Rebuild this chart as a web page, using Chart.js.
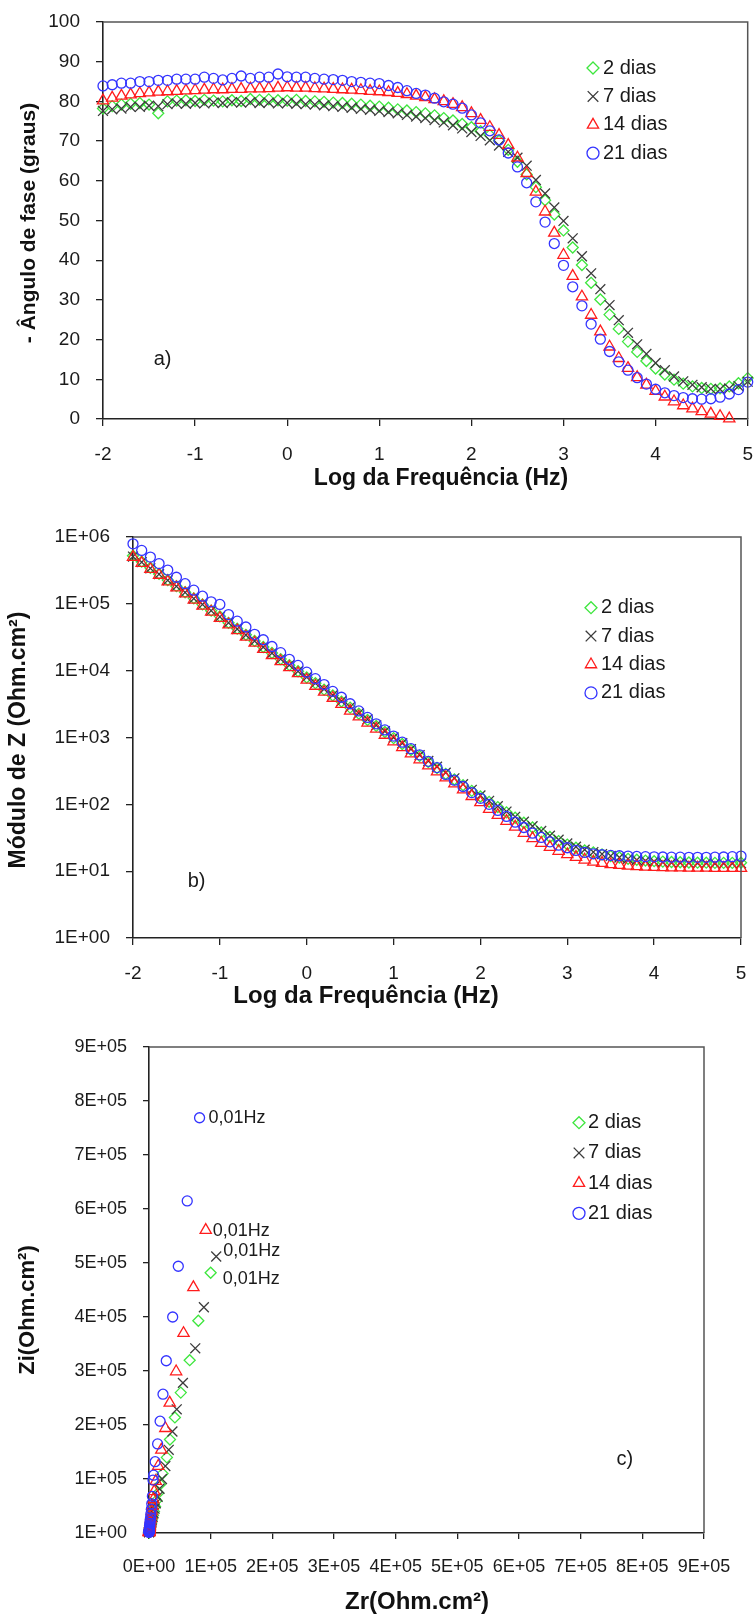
<!DOCTYPE html>
<html><head><meta charset="utf-8">
<script src="https://cdn.jsdelivr.net/npm/chart.js@4.4.1/dist/chart.umd.min.js"></script>
<style>
html,body{margin:0;padding:0;background:#fff;}
body{width:756px;height:1616px;position:relative;overflow:hidden;}
.box{position:absolute;left:0;width:756px;}
canvas{display:block;}
</style></head><body>
<div class="box" style="top:0;height:505px"><canvas id="cA" width="756" height="505"></canvas></div>
<div class="box" style="top:505px;height:505px"><canvas id="cB" width="756" height="505"></canvas></div>
<div class="box" style="top:1010px;height:606px"><canvas id="cC" width="756" height="606"></canvas></div>
<script>
// ---------------- DATA ----------------
const seriesLabels = ['2 dias', '7 dias', '14 dias', '21 dias'];

// log10 of frequency (Hz), 10 points per decade
const logFreq = [-2.0,-1.9,-1.8,-1.7,-1.6,-1.5,-1.4,-1.3,-1.2,-1.1,
  -1.0,-0.9,-0.8,-0.7,-0.6,-0.5,-0.4,-0.3,-0.2,-0.1,
  0.0,0.1,0.2,0.3,0.4,0.5,0.6,0.7,0.8,0.9,
  1.0,1.1,1.2,1.3,1.4,1.5,1.6,1.7,1.8,1.9,
  2.0,2.1,2.2,2.3,2.4,2.5,2.6,2.7,2.8,2.9,
  3.0,3.1,3.2,3.3,3.4,3.5,3.6,3.7,3.8,3.9,
  4.0,4.1,4.2,4.3,4.4,4.5,4.6,4.7,4.8,4.9,5.0];

// a) - phase angle (degrees)
const phase2d = [78.2,78.8,79.2,79.4,79.6,79.2,77.0,80.0,80.2,80.3,
  80.1,80.4,80.2,80.0,80.3,80.1,80.6,80.4,80.5,80.3,
  80.2,80.4,80.1,80.0,79.9,79.7,79.6,79.4,79.2,78.9,
  78.7,78.4,78.0,77.7,77.3,77.0,76.5,75.8,75.2,74.3,
  73.5,72.5,71.5,70.1,67.8,64.8,61.6,58.4,55.1,51.5,
  47.5,43.2,38.8,34.3,30.1,26.3,22.7,19.5,16.9,14.6,
  12.7,11.2,9.9,8.9,8.2,7.8,7.6,7.7,8.2,9.0,10.3];
const phase7d = [77.6,78.0,78.2,78.6,78.6,78.9,78.8,79.3,79.5,79.4,
  79.6,79.5,79.7,79.6,79.8,79.7,79.8,79.6,79.7,79.5,
  79.6,79.4,79.3,79.2,79.0,78.8,78.6,78.4,78.1,77.9,
  77.6,77.3,77.0,76.6,76.2,75.8,75.3,74.7,74.0,73.2,
  72.3,71.3,70.2,68.9,67.3,65.8,63.8,60.2,56.8,53.3,
  49.9,45.5,41.0,36.7,32.7,28.7,24.9,21.7,18.8,16.4,
  14.1,12.3,10.7,9.5,8.6,8.0,7.6,7.5,7.7,8.3,9.4];
const phase14d = [80.2,80.9,81.4,81.7,82.0,82.2,82.4,82.5,82.6,82.7,
  82.8,82.9,83.0,83.0,83.1,83.1,83.2,83.2,83.3,83.4,
  83.5,83.4,83.4,83.3,83.2,83.1,83.0,82.9,82.8,82.6,
  82.5,82.3,82.1,81.8,81.4,81.0,80.5,80.0,79.3,78.5,
  77.0,75.3,73.5,71.5,69.0,65.8,61.9,57.2,52.2,46.9,
  41.3,36.0,30.8,26.2,22.0,18.2,15.3,12.8,10.5,8.6,
  7.0,5.6,4.4,3.4,2.6,1.9,1.3,0.7,0.1,null,null];
const phase21d = [83.9,84.2,84.6,84.6,85.0,85.0,85.3,85.3,85.6,85.6,
  85.6,86.1,85.8,85.4,85.8,86.4,85.8,86.1,86.1,86.9,
  86.2,86.1,86.1,85.8,85.6,85.5,85.3,85.0,84.8,84.6,
  84.5,84.0,83.5,82.7,82.0,81.6,80.8,79.9,79.3,78.3,
  76.6,74.6,72.6,70.3,67.0,63.5,59.5,54.7,49.6,44.2,
  38.7,33.3,28.5,23.9,20.1,17.0,14.4,12.3,10.4,8.8,
  7.5,6.6,5.9,5.4,5.1,5.0,5.1,5.5,6.3,7.4,9.3];

// b) impedance modulus |Z| (Ohm.cm2)
const modZ2d = [5.25e5,4.27e5,3.47e5,2.8e5,2.27e5,1.84e5,1.49e5,1.21e5,9.8e4,7.9e4,
  6.5e4,5.2e4,4.25e4,3.44e4,2.79e4,2.26e4,1.84e4,1.49e4,1.21e4,9.8e3,
  7.9e3,6.5e3,5.2e3,4.25e3,3.45e3,2.8e3,2.27e3,1.83e3,1.49e3,1.21e3,
  980,800,650,530,430,350,285,235,193,159,
  131,109,91,76,63,53,45,38,32.5,28.2,
  25,22.4,20.4,19,17.8,16.8,16.0,15.3,14.8,14.4,
  14.1,13.9,13.7,13.6,13.5,13.4,13.4,13.3,13.3,13.3,13.4];
const modZ7d = [5.1e5,4.2e5,3.4e5,2.78e5,2.25e5,1.83e5,1.48e5,1.2e5,9.8e4,7.9e4,
  6.4e4,5.2e4,4.2e4,3.42e4,2.78e4,2.25e4,1.83e4,1.49e4,1.21e4,9.8e3,
  8.0e3,6.5e3,5.3e3,4.3e3,3.5e3,2.85e3,2.3e3,1.87e3,1.52e3,1.24e3,
  1.0e3,820,670,545,445,365,298,245,200,165,
  136,113,94,78,65,55,47,40,34,29.5,
  26,23.2,21,19.3,18,16.9,16.0,15.3,14.7,14.3,
  13.9,13.6,13.4,13.3,13.2,13.1,13.1,13.0,13.0,13.0,13.1];
const modZ14d = [5.0e5,4.07e5,3.3e5,2.7e5,2.15e5,1.75e5,1.42e5,1.15e5,9.3e4,7.6e4,
  6.1e4,4.9e4,4.0e4,3.2e4,2.6e4,2.1e4,1.7e4,1.38e4,1.12e4,9.1e3,
  7.3e3,5.9e3,4.8e3,3.9e3,3.15e3,2.5e3,2.05e3,1.66e3,1.35e3,1.09e3,
  870,710,575,468,380,309,251,204,166,132,
  107,85,69,56,46,37,31,26.3,22.9,20,
  17.8,16.2,14.8,13.8,13.2,12.6,12.3,12.0,11.8,11.6,
  11.5,11.4,11.3,11.3,11.2,11.2,11.2,11.1,11.1,11.1,11.1];
const modZ21d = [7.9e5,6.3e5,5.0e5,4.0e5,3.2e5,2.5e5,2.0e5,1.6e5,1.3e5,1.07e5,
  9.8e4,6.9e4,5.5e4,4.5e4,3.5e4,2.9e4,2.3e4,1.86e4,1.48e4,1.2e4,
  9.5e3,7.6e3,6.2e3,4.9e3,4.0e3,3.2e3,2.5e3,2.0e3,1.6e3,1.3e3,
  1.05e3,850,680,550,440,355,280,230,185,150,
  123,100,81,66,54,45,37,32,27.5,24.5,
  22.4,20.4,19.1,18.2,17.6,17.2,17.0,16.8,16.6,16.5,
  16.4,16.3,16.2,16.2,16.1,16.1,16.1,16.2,16.3,16.5,16.8];

// c) Nyquist: real (Zr) and imaginary (Zi) parts, from 0.01 Hz upwards
const zr2d = [1.0e5,8.0e4,6.6e4,5.15e4,4.2e4,3.4e4,2.9e4,2.2e4,1.8e4,1.5e4,1.2e4,9.8e3,8e3,6.5e3,5.2e3,4.2e3,3.4e3,2.7e3,2.2e3,1.7e3,1.4e3,1.1e3,900,700,560,450,360,290,230,180];
const zi2d = [4.82e5,3.93e5,3.2e5,2.6e5,2.14e5,1.73e5,1.4e5,1.1e5,9e4,7.4e4,6e4,4.9e4,4e4,3.3e4,2.7e4,2.2e4,1.8e4,1.46e4,1.2e4,9.8e3,8e3,6.5e3,5.3e3,4.3e3,3.5e3,2.9e3,2.35e3,1.9e3,1.55e3,1.3e3];
const zr7d = [1.09e5,8.9e4,7.5e4,5.5e4,4.5e4,3.8e4,3.2e4,2.65e4,2.1e4,1.7e4,1.4e4,1.1e4,9e3,7.2e3,5.8e3,4.6e3,3.7e3,2.9e3,2.3e3,1.8e3,1.4e3,1.1e3,900,700,550,430,340,270,210,170];
const zi7d = [5.12e5,4.18e5,3.42e5,2.78e5,2.29e5,1.88e5,1.54e5,1.24e5,1.0e5,8.2e4,6.7e4,5.5e4,4.5e4,3.7e4,3e4,2.45e4,2e4,1.64e4,1.34e4,1.1e4,9e3,7.3e3,6e3,4.9e3,4e3,3.2e3,2.6e3,2.1e3,1.7e3,1.4e3];
const zr14d = [9.2e4,7.2e4,5.6e4,4.4e4,3.36e4,2.65e4,2.0e4,1.5e4,1.1e4,8.5e3,7e3,5.5e3,4.5e3,3.6e3,2.9e3,2.3e3,1.8e3,1.4e3,1.1e3,900,700,560,450,360,290,230,180,150,120,100];
const zi14d = [5.61e5,4.55e5,3.7e5,2.99e5,2.41e5,1.94e5,1.54e5,1.24e5,9.6e4,7.7e4,6.2e4,5e4,4e4,3.2e4,2.6e4,2.1e4,1.7e4,1.37e4,1.1e4,9e3,7.2e3,5.8e3,4.7e3,3.8e3,3.1e3,2.5e3,2e3,1.6e3,1.3e3,1.1e3];
const zr21d = [8.2e4,6.2e4,4.75e4,3.84e4,2.8e4,2.27e4,1.8e4,1.4e4,1.0e4,7.5e3,6.5e3,5.5e3,4.5e3,3.8e3,3.0e3,2.4e3,1.9e3,1.5e3,1.2e3,1.0e3,800,600,500,400,300,250,200,150,120,100];
const zi21d = [7.69e5,6.15e5,4.94e5,4.0e5,3.19e5,2.57e5,2.07e5,1.65e5,1.32e5,1.07e5,9.8e4,6.8e4,5.4e4,4.4e4,3.5e4,2.8e4,2.3e4,1.8e4,1.45e4,1.2e4,9.4e3,7.5e3,6e3,4.8e3,3.9e3,3.1e3,2.5e3,2e3,1.6e3,1.3e3];

// tick labels and texts
const zDecades = [1, 10, 100, 1e3, 1e4, 1e5, 1e6];
const zTickLabels = ['1E+00','1E+01','1E+02','1E+03','1E+04','1E+05','1E+06'];
const nyqXLabels = ['0E+00','1E+05','2E+05','3E+05','4E+05','5E+05','6E+05','7E+05','8E+05','9E+05'];
const nyqYLabels = ['1E+00','1E+05','2E+05','3E+05','4E+05','5E+05','6E+05','7E+05','8E+05','9E+05'];
const freqNote = '0,01Hz';
const titleFreq = 'Log da Frequência (Hz)';
const titlePhase = '- Ângulo de fase (graus)';
const titleModZ = 'Módulo de Z (Ohm.cm²)';
const titleZr = 'Zr(Ohm.cm²)';
const titleZi = 'Zi(Ohm.cm²)';

// ---------------- STYLE ----------------
const SANS = '"Liberation Sans", Arial, Helvetica, sans-serif';
const B = s => 'bold ' + s + 'px ' + SANS;
const R = s => s + 'px ' + SANS;

const styles = [
  {pointStyle: 'rectRot', color: '#3ee63e', radius: 5.5, legendRadius: 6},
  {pointStyle: 'crossRot', color: '#3c3c3c', radius: 7, legendRadius: 7.5},
  {pointStyle: 'triangle', color: '#ff1c1c', radius: 6.5, legendRadius: 6.5},
  {pointStyle: 'circle', color: '#3434ff', radius: 5, legendRadius: 6}
];
const AXIS = '#222';
const TXT = '#1a1a1a';

function makeDatasets(xs, ysList) {
  return ysList.map((ys, i) => ({
    label: seriesLabels[i],
    data: ys.map((y, k) => ({x: Array.isArray(xs[0]) ? xs[i][k] : xs[k], y: y})),
    pointStyle: styles[i].pointStyle,
    borderColor: styles[i].color,
    backgroundColor: 'rgba(0,0,0,0)',
    pointRadius: styles[i].radius,
    pointBorderWidth: 1.3,
    borderWidth: 1.3,
    legendRadius: styles[i].legendRadius,
    showLine: false,
    clip: false,
    order: 3 - i
  }));
}

const overlay = {
  id: 'overlay',
  afterDatasetsDraw(chart, args, o) {
    const ctx = chart.ctx, a = chart.chartArea;
    ctx.save();
    // frame (top and right sides)
    ctx.strokeStyle = '#555'; ctx.lineWidth = 1.5;
    ctx.beginPath();
    ctx.moveTo(a.left, a.top); ctx.lineTo(a.right, a.top); ctx.lineTo(a.right, a.bottom);
    ctx.stroke();
    // legend
    const L = o.legend;
    chart.data.datasets.forEach((ds, i) => {
      const y = L.y + i * L.dy;
      ctx.save();
      ctx.strokeStyle = ds.borderColor; ctx.fillStyle = 'rgba(0,0,0,0)'; ctx.lineWidth = 1.3;
      Chart.helpers.drawPoint(ctx, {pointStyle: ds.pointStyle, radius: ds.legendRadius, borderWidth: 1.3, rotation: 0}, L.markerX, y);
      ctx.restore();
      ctx.fillStyle = TXT; ctx.font = L.font; ctx.textBaseline = 'middle'; ctx.textAlign = 'left';
      ctx.fillText(ds.label, L.textX, y);
    });
    // notes
    (o.notes || []).forEach(n => {
      let px, py;
      if (n.ds !== undefined) {
        const el = chart.getDatasetMeta(n.ds).data[n.idx];
        px = el.x + n.dx; py = el.y + n.dy;
      } else {
        px = chart.scales.x.getPixelForValue(n.x);
        py = chart.scales.y.getPixelForValue(n.y);
      }
      ctx.fillStyle = TXT; ctx.font = n.font; ctx.textBaseline = 'middle'; ctx.textAlign = 'left';
      ctx.fillText(n.text, px, py);
    });
    // axis titles
    (o.titles || []).forEach(t => {
      ctx.save();
      ctx.translate(t.x, t.y);
      if (t.rot) ctx.rotate(t.rot);
      ctx.font = t.font; ctx.fillStyle = '#111'; ctx.textAlign = 'center'; ctx.textBaseline = 'middle';
      ctx.fillText(t.text, 0, 0);
      ctx.restore();
    });
    ctx.restore();
  }
};

function axis(opts) {
  return Object.assign({
    grid: {drawOnChartArea: false, drawTicks: true, tickLength: opts.tickLen, color: AXIS, tickColor: AXIS, lineWidth: 1.3},
    border: {display: true, color: AXIS, width: 1.6},
    ticks: Object.assign({color: TXT, font: {family: SANS, size: opts.size}, padding: opts.pad,
      autoSkip: false, maxRotation: 0, minRotation: 0}, opts.ticks || {}),
    title: {display: false}
  }, opts.scale);
}
const fixX = h => s => { s.height = h; s.paddingLeft = 0; s.paddingRight = 0; };
const fixY = w => s => { s.width = w; s.paddingTop = 0; s.paddingBottom = 0; };
const UP = -Math.PI / 2;

const baseOpts = {
  responsive: false, animation: false, events: []
};
const basePlugins = {legend: {display: false}, tooltip: {enabled: false}};

// ---------------- CHART A ----------------
new Chart(document.getElementById('cA'), {
  type: 'scatter',
  data: {datasets: makeDatasets(logFreq, [phase2d, phase7d, phase14d, phase21d])},
  plugins: [overlay],
  options: Object.assign({}, baseOpts, {
    layout: {padding: {top: 22, right: 7, left: 0, bottom: 0}},
    plugins: Object.assign({}, basePlugins, {
      overlay: {
        legend: {markerX: 593, textX: 603, y: 68, dy: 28.4, font: R(20)},
        notes: [{text: 'a)', x: -1.45, y: 15, font: R(20)}],
        titles: [
          {text: titleFreq, x: 441, y: 479, font: B(23)},
          {text: titlePhase, x: 29, y: 223, rot: UP, font: B(21)}
        ]
      }
    }),
    scales: {
      x: axis({size: 19, pad: 17, tickLen: 7, ticks: {stepSize: 1},
        scale: {type: 'linear', min: -2, max: 5, afterFit: fixX(86)}}),
      y: axis({size: 19, pad: 16, tickLen: 7, ticks: {stepSize: 10},
        scale: {type: 'linear', min: 0, max: 100, afterFit: fixY(103)}})
    }
  })
});

// ---------------- CHART B ----------------
new Chart(document.getElementById('cB'), {
  type: 'scatter',
  data: {datasets: makeDatasets(logFreq, [modZ2d, modZ7d, modZ14d, modZ21d])},
  plugins: [overlay],
  options: Object.assign({}, baseOpts, {
    layout: {padding: {top: 32, right: 15, left: 0, bottom: 0}},
    plugins: Object.assign({}, basePlugins, {
      overlay: {
        legend: {markerX: 591, textX: 601, y: 102.7, dy: 28.4, font: R(20)},
        notes: [{text: 'b)', x: -1.37, y: 6.9, font: R(20)}],
        titles: [
          {text: titleFreq, x: 366, y: 491, font: B(24)},
          {text: titleModZ, x: 19, y: 235, rot: UP, font: B(23)}
        ]
      }
    }),
    scales: {
      x: axis({size: 19, pad: 17, tickLen: 7, ticks: {stepSize: 1},
        scale: {type: 'linear', min: -2, max: 5, afterFit: fixX(72)}}),
      y: axis({size: 19, pad: 16, tickLen: 7,
        ticks: {callback: v => zTickLabels[zDecades.indexOf(v)]},
        scale: {type: 'logarithmic', min: 1, max: 1e6, afterFit: fixY(133),
          afterBuildTicks: s => { s.ticks = zDecades.map(v => ({value: v, major: true})); }}})
    }
  })
});

// ---------------- CHART C ----------------
new Chart(document.getElementById('cC'), {
  type: 'scatter',
  data: {datasets: makeDatasets([zr2d, zr7d, zr14d, zr21d], [zi2d, zi7d, zi14d, zi21d])},
  plugins: [overlay],
  options: Object.assign({}, baseOpts, {
    layout: {padding: {top: 37, right: 52, left: 0, bottom: 0}},
    plugins: Object.assign({}, basePlugins, {
      overlay: {
        legend: {markerX: 579, textX: 588, y: 112.7, dy: 30.2, font: R(20)},
        notes: [
          {text: 'c)', x: 7.58e5, y: 1.37e5, font: R(20)},
          {text: freqNote, ds: 3, idx: 0, dx: 9, dy: 0, font: R(18)},
          {text: freqNote, ds: 2, idx: 0, dx: 7, dy: 0.5, font: R(18)},
          {text: freqNote, ds: 1, idx: 0, dx: 7, dy: -5, font: R(18)},
          {text: freqNote, ds: 0, idx: 0, dx: 12, dy: 6, font: R(18)}
        ],
        titles: [
          {text: titleZr, x: 417, y: 592, font: B(24)},
          {text: titleZi, x: 28, y: 300, rot: UP, font: B(22)}
        ]
      }
    }),
    scales: {
      x: axis({size: 18, pad: 17, tickLen: 6,
        ticks: {stepSize: 1e5, callback: (v, i) => nyqXLabels[i]},
        scale: {type: 'linear', min: 0, max: 9e5, afterFit: fixX(83)}}),
      y: axis({size: 18, pad: 16, tickLen: 6,
        ticks: {stepSize: 1e5, callback: (v, i) => nyqYLabels[i]},
        scale: {type: 'linear', min: 0, max: 9e5, afterFit: fixY(149)}})
    }
  })
});
</script>
</body></html>
